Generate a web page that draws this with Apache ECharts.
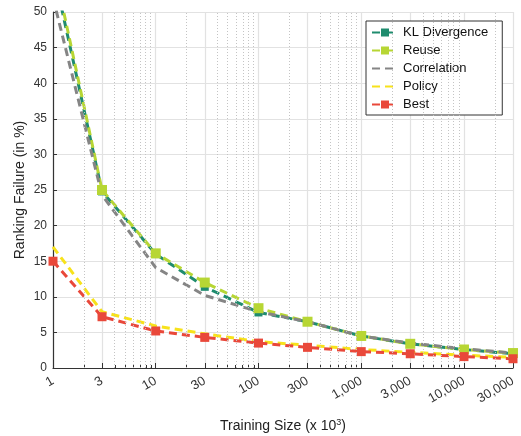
<!DOCTYPE html>
<html>
<head>
<meta charset="utf-8">
<script src="https://cdn.jsdelivr.net/npm/echarts@6/dist/echarts.min.js"></script>
<style>
  html, body { margin: 0; padding: 0; background: #fff; }
  #chart { width: 521px; height: 436px; }
</style>
</head>
<body>
<div id="chart"></div>
<script>
// training sizes (x 10^3) and the failure rate of each method (in %)
const sizes = [1, 3, 10, 30, 100, 300, 1000, 3000, 10000, 30000];
const sizeLabels = ['1', '3', '10', '30', '100', '300', '1,000', '3,000', '10,000', '30,000'];
const minorSizes = [2, 4, 5, 6, 7, 8, 9, 20, 40, 50, 60, 70, 80, 90,
  200, 400, 500, 600, 700, 800, 900, 2000, 4000, 5000, 6000, 7000, 8000, 9000,
  20000];
const klDivergence = [56, 24.8, 16.0, 11.4, 7.8, 6.5, 4.5, 3.4, 2.6, 2.0];
const reuse = [57, 25.0, 16.1, 12.0, 8.4, 6.5, 4.5, 3.4, 2.6, 2.1];
const correlation = [52, 24.3, 14.1, 10.2, 7.9, 6.5, 4.5, 3.5, 2.7, 2.1];
const policy = [17, 7.9, 5.9, 4.8, 3.7, 3.2, 2.6, 2.2, 1.8, 1.5];
const best = [15, 7.2, 5.2, 4.3, 3.5, 2.9, 2.3, 2.0, 1.6, 1.3];

const FONT = 'Liberation Sans';
const lg = v => Math.log10(v);
const pts = vals => sizes.map((s, i) => [lg(s), vals[i]]);

function line(name, vals, color, symbol, symbolSize) {
  return {
    name: name,
    type: 'line',
    data: pts(vals),
    symbol: symbol,
    symbolSize: symbolSize,
    itemStyle: { color: color },
    lineStyle: { color: color, width: 3, type: [8, 5] },
    z: 3,
    animation: false
  };
}

const chart = echarts.init(document.getElementById('chart'));
chart.setOption({
  textStyle: { fontFamily: FONT },
  grid: { left: 53, right: 8, top: 12, bottom: 68, outerBoundsMode: 'none', containLabel: false },
  legend: {
    orient: 'vertical',
    left: 366,
    top: 21,
    itemWidth: 26,
    itemHeight: 10,
    itemGap: 5,
    padding: [5, 14, 4, 5],
    borderColor: '#333',
    borderWidth: 1,
    backgroundColor: '#fff',
    textStyle: { fontFamily: FONT, fontSize: 13, color: '#111' },
    data: [
      { name: 'KL Divergence' },
      { name: 'Reuse' },
      { name: 'Correlation', itemStyle: { opacity: 0 } },
      { name: 'Policy', itemStyle: { opacity: 0 } },
      { name: 'Best' }
    ]
  },
  xAxis: [
    {
      type: 'value',
      min: 0,
      max: lg(30000),
      name: 'Training Size (x 10{sup|3})',
      nameLocation: 'middle',
      nameGap: 50,
      nameTextStyle: {
        fontFamily: FONT, fontSize: 14, color: '#222',
        rich: { sup: { fontFamily: FONT, fontSize: 9, verticalAlign: 'top', padding: [0, 0, 8, 0] } }
      },
      axisLine: { lineStyle: { color: '#333', width: 1.2 } },
      axisTick: { inside: true, length: 5, lineStyle: { color: '#333' }, customValues: sizes.map(lg) },
      axisLabel: {
        customValues: sizes.map(lg),
        rotate: 30,
        margin: 12,
        fontSize: 13,
        color: '#333',
        formatter: v => {
          const i = sizes.findIndex(s => Math.abs(lg(s) - v) < 1e-6);
          return i >= 0 ? sizeLabels[i] : '';
        }
      },
      splitLine: { show: true, lineStyle: { color: '#e2e2e2', width: 1.2 } }
    },
    {
      // minor log ticks
      type: 'value',
      position: 'bottom',
      min: 0,
      max: lg(30000),
      axisLine: { show: false },
      axisTick: { inside: true, length: 3, lineStyle: { color: '#333' }, customValues: minorSizes.map(lg) },
      axisLabel: { show: false, customValues: minorSizes.map(lg) },
      splitLine: { show: false }
    }
  ],
  yAxis: {
    type: 'value',
    min: 0,
    max: 50,
    interval: 5,
    name: 'Ranking Failure (in %)',
    nameLocation: 'middle',
    nameGap: 26,
    nameMoveOverlap: false,
    nameTextStyle: { fontFamily: FONT, fontSize: 14, color: '#222' },
    axisLine: { show: true, lineStyle: { color: '#333', width: 1.2 } },
    axisTick: { show: true, inside: true, length: 4, lineStyle: { color: '#333' } },
    axisLabel: { fontSize: 12, color: '#333', margin: 6 },
    splitLine: { lineStyle: { color: '#e2e2e2', width: 1.2 } }
  },
  series: [
    {
      // dotted minor grid lines of the log axis
      type: 'line',
      data: [],
      silent: true,
      z: 1,
      markLine: {
        silent: true,
        symbol: 'none',
        label: { show: false },
        animation: false,
        lineStyle: { color: '#c4c4c4', width: 1, type: [1, 2] },
        data: minorSizes.map(s => ({ xAxis: lg(s) }))
      }
    },
    line('KL Divergence', klDivergence, '#1f8c6e', 'rect', 8),
    line('Reuse', reuse, '#b7d634', 'rect', 10),
    line('Correlation', correlation, '#858585', 'none', 0),
    line('Policy', policy, '#f7e21b', 'none', 0),
    line('Best', best, '#e9483a', 'rect', 9)
  ]
});
</script>
</body>
</html>
